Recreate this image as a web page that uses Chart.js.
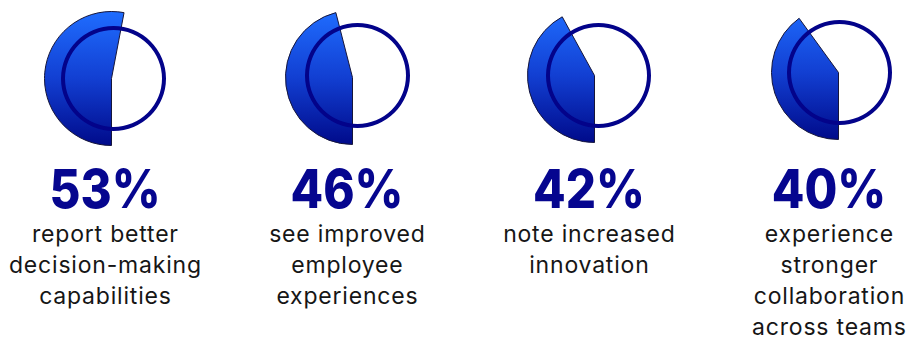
<!DOCTYPE html>
<html>
<head>
<meta charset="utf-8">
<script src="https://cdn.jsdelivr.net/npm/chart.js@4.4.1/dist/chart.umd.min.js"></script>
<style>
  html, body { margin: 0; padding: 0; background: #ffffff; }
  #stage { position: relative; width: 918px; height: 340px; overflow: hidden; background: #fff; }
  .cv { position: absolute; }
  .pct { position: absolute; width: 240px; text-align: center; font-family: Inter, "Noto Sans", sans-serif;
         font-weight: 800; font-size: 54px; line-height: 54px; color: #06068f; letter-spacing: 0px;
         transform: scaleX(0.88); transform-origin: 50% 50%; }
  .desc { position: absolute; width: 240px; text-align: center; font-family: Inter, "Noto Sans", sans-serif;
          font-weight: 400; font-size: 23px; line-height: 31px; color: #161616; letter-spacing: 0.8px; }
</style>
</head>
<body>
<div id="stage"></div>
<script>
// ---- data ----
const values = [53, 46, 42, 40];
const percentLabels = ["53%", "46%", "42%", "40%"];
const descriptions = [
  ["report better", "decision-making", "capabilities"],
  ["see improved", "employee", "experiences"],
  ["note increased", "innovation"],
  ["experience", "stronger", "collaboration", "across teams"]
];

// ---- layout (pixels) ----
const textCX = [105, 347, 589, 829];
const wedgeCX = [111, 352, 594, 838];
const wedgeCY = [78, 77, 75, 72];
const ringCX = [113.5, 357, 598, 839];
const ringCY = [78.3, 75.8, 75.5, 72.2];
const wedgeR = 67;
const ringR = 52.5;
const ringW = 4;

const stage = document.getElementById('stage');

function addCanvas(cx, cy, size) {
  const c = document.createElement('canvas');
  c.className = 'cv';
  c.width = size; c.height = size;
  c.style.width = size + 'px'; c.style.height = size + 'px';
  c.style.left = (cx - size / 2) + 'px';
  c.style.top = (cy - size / 2) + 'px';
  stage.appendChild(c);
  return c;
}

const baseOpts = {
  responsive: false,
  animation: false,
  events: [],
  layout: { padding: 0 },
  plugins: { legend: { display: false }, tooltip: { enabled: false }, title: { display: false } }
};

values.forEach((v, i) => {
  // wedge
  const wc = addCanvas(wedgeCX[i], wedgeCY[i], wedgeR * 2 + 1);
  new Chart(wc, {
    type: 'pie',
    data: {
      labels: [descriptions[i].join(' '), 'rest'],
      datasets: [{
        data: [v, 100 - v],
        backgroundColor: (ctx) => {
          if (ctx.dataIndex === 1) return 'rgba(0,0,0,0)';
          const chart = ctx.chart;
          const area = chart.chartArea;
          if (!area) return '#1440d0';
          const g = chart.ctx.createLinearGradient(0, area.top, 0, area.bottom);
          g.addColorStop(0, '#1f6dff');
          g.addColorStop(0.5, '#123fd2');
          g.addColorStop(1, '#000a8a');
          return g;
        },
        borderColor: ['#16163a', 'rgba(0,0,0,0)'],
        borderWidth: [1, 0],
        borderJoinStyle: 'miter'
      }]
    },
    options: Object.assign({}, baseOpts, { rotation: 180, circumference: 360 })
  });

  // ring
  const rc = addCanvas(ringCX[i], ringCY[i], ringR * 2);
  new Chart(rc, {
    type: 'doughnut',
    data: {
      labels: ['ring'],
      datasets: [{ data: [100], backgroundColor: ['#03038a'], borderWidth: 0 }]
    },
    options: Object.assign({}, baseOpts, { cutout: ringR - ringW })
  });

  // texts
  const p = document.createElement('div');
  p.className = 'pct';
  p.textContent = percentLabels[i];
  p.style.left = (textCX[i] - 120) + 'px';
  p.style.top = '161.6px';
  stage.appendChild(p);

  const d = document.createElement('div');
  d.className = 'desc';
  d.innerHTML = descriptions[i].map(s => s.replace(/&/g, '&amp;')).join('<br>');
  d.style.left = (textCX[i] - 120 + 0.4) + 'px';
  d.style.top = '219.3px';
  stage.appendChild(d);
});
</script>
</body>
</html>
